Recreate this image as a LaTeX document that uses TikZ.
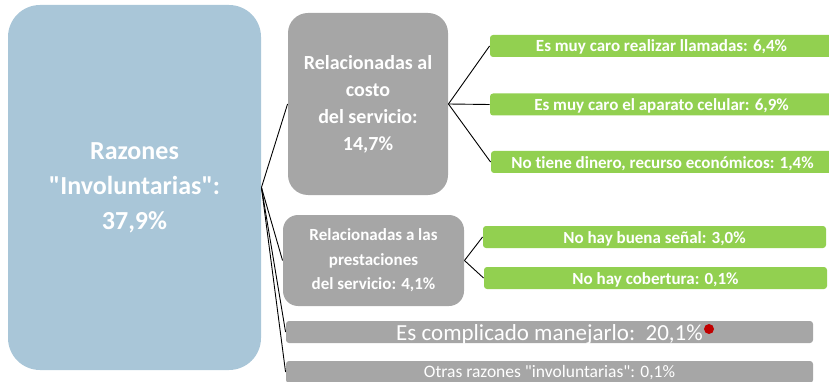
\documentclass[tikz,border=0pt]{standalone}
\usepackage{fontspec}
\setmainfont{Carlito}[Ligatures={TeXOff,NoCommon}]
\usepackage{tikz}
\definecolor{azul}{RGB}{169,198,216}
\definecolor{gris}{RGB}{166,166,166}
\definecolor{verdeclaro}{RGB}{146,208,80}
\definecolor{rojo}{RGB}{192,0,0}

\begin{document}
\begin{tikzpicture}[x=1pt,y=-1pt,line width=0.9pt,
    caja/.style={inner sep=0pt,text=white,align=center},
    verde/.style={caja,fill=verdeclaro,rounded corners=3pt,minimum width=343pt,minimum height=22pt,
      text height=17pt,text depth=5pt,font=\bfseries\fontsize{17}{20}\selectfont},
    barra/.style={caja,fill=gris,rounded corners=3pt,minimum width=527pt,minimum height=22pt}]
      \useasboundingbox (0,0) rectangle (829,382);
      \node[caja,fill=azul,rounded corners=32pt,minimum width=253pt,minimum height=365pt,
        font=\bfseries\fontsize{26}{35}\selectfont] (r) at (134.5,187.5) {Razones\\"Involuntarias":\\37,9\%};
      \node[caja,fill=gris,rounded corners=20pt,minimum width=160pt,minimum height=182pt,
        font=\bfseries\fontsize{20}{27}\selectfont] (c) at (368,104) {Relacionadas al\\costo\\del servicio:\\14,7\%};
      \node[caja,fill=gris,rounded corners=15pt,minimum width=181pt,minimum height=91pt,
        font=\bfseries\fontsize{17}{24.5}\selectfont] (p) at (373.5,260.5) {Relacionadas a las\\prestaciones\\del servicio: 4,1\%};
      \node[barra,text height=19.7pt,text depth=2.3pt,font=\fontsize{23}{26}\selectfont] (m) at (549.5,332) {Es complicado manejarlo:\ \ 20,1\%};
      \node[barra,text height=16pt,text depth=6pt,font=\fontsize{17.5}{20}\selectfont] (o) at (549.5,372) {Otras razones "involuntarias": 0,1\%};
      \node[verde] (c1) at (661.5,46) {Es muy caro realizar llamadas: 6,4\%};
      \node[verde] (c2) at (661.5,104.5) {Es muy caro el aparato celular: 6,9\%};
      \node[verde] (c3) at (662.5,162) {No tiene dinero, recurso económicos: 1,4\%};
      \node[verde] (p1) at (654.5,237) {No hay buena señal: 3,0\%};
      \node[verde] (p2) at (655.5,278) {No hay cobertura: 0,1\%};
      \node[circle,fill=rojo,inner sep=0pt,minimum size=10pt] (d) at (709,329) {};
      \draw (r.east) -- (c.west);
      \draw (r.east) -- (p.west);
      \draw (r.east) -- (m.west);
      \draw (r.east) -- (o.west);
      \draw (c.east) -- (c1.west);
      \draw (c.east) -- (c2.west);
      \draw (c.east) -- (c3.west);
      \draw (p.east) -- (p1.west);
      \draw (p.east) -- (p2.west);
    \end{tikzpicture}
\end{document}
